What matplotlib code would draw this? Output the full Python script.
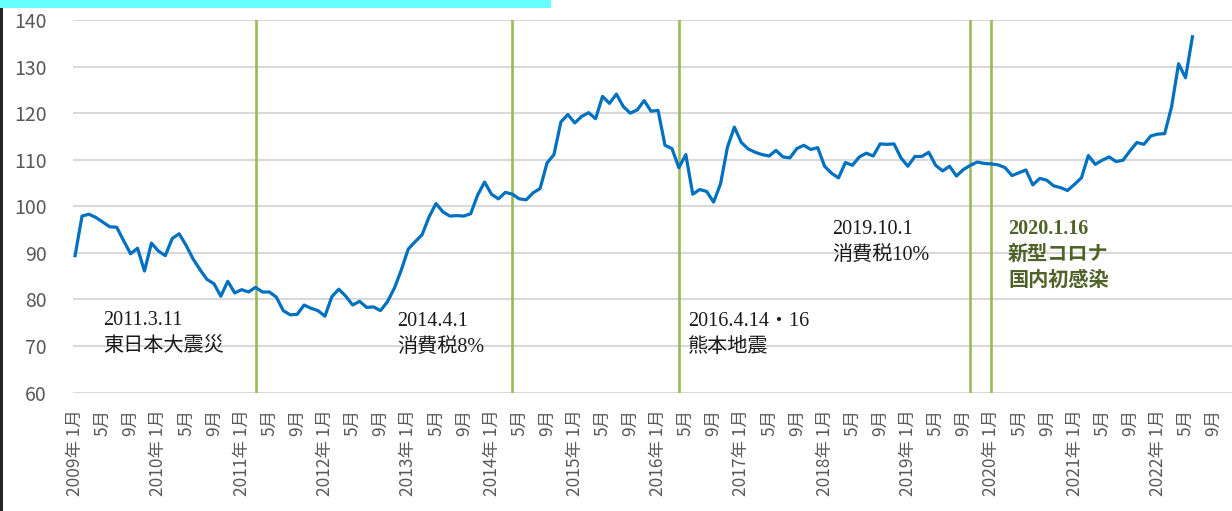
import numpy as np
import matplotlib
matplotlib.use('Agg')
import matplotlib.pyplot as plt
from matplotlib.lines import Line2D
from matplotlib.patches import Rectangle

plt.rcParams['font.family'] = ['Noto Sans CJK JP', 'DejaVu Sans']

# 月次の指数 (2009年1月〜2022年6月)
start_year = 2009
values = [
    89.4, 97.9, 98.3, 97.6, 96.6, 95.6, 95.5, 92.6, 89.8, 91.0, 86.1, 92.1,
    90.4, 89.4, 93.1, 94.1, 91.6, 88.7, 86.4, 84.3, 83.4, 80.7, 83.9, 81.4,
    82.1, 81.6, 82.6, 81.6, 81.6, 80.5, 77.6, 76.7, 76.8, 78.8, 78.1, 77.6,
    76.4, 80.6, 82.2, 80.7, 78.8, 79.6, 78.3, 78.4, 77.6, 79.5, 82.4, 86.3,
    90.8, 92.4, 93.9, 97.7, 100.6, 98.8, 97.9, 98.0, 97.9, 98.4, 102.4, 105.2,
    102.6, 101.6, 103.0, 102.6, 101.6, 101.4, 102.9, 103.8, 109.3, 111.1, 118.1, 119.7,
    117.9, 119.3, 120.1, 118.8, 123.6, 122.1, 124.1, 121.4, 120.0, 120.7, 122.7, 120.4,
    120.6, 113.1, 112.4, 108.3, 111.1, 102.6, 103.6, 103.2, 100.9, 104.8, 112.7, 117.0,
    113.7, 112.3, 111.6, 111.1, 110.8, 112.0, 110.6, 110.4, 112.4, 113.1, 112.2, 112.6,
    108.6, 107.1, 106.1, 109.4, 108.8, 110.6, 111.4, 110.8, 113.4, 113.3, 113.4, 110.4,
    108.6, 110.7, 110.7, 111.6, 108.8, 107.6, 108.6, 106.5, 107.9, 108.8, 109.5, 109.2,
    109.1, 108.9, 108.3, 106.6, 107.2, 107.8, 104.6, 106.0, 105.6, 104.4, 104.0, 103.4,
    104.7, 106.1, 110.9, 109.0, 109.9, 110.6, 109.6, 109.9, 111.9, 113.7, 113.3, 115.1,
    115.5, 115.6, 121.4, 130.6, 127.6, 136.4,
]

# 出来事 (年, 月)
event_months = [(2011, 3), (2014, 4), (2016, 4), (2019, 10), (2020, 1)]
event_labels = [
    ['2011.3.11', '東日本大震災'],
    ['2014.4.1', '消費税8%'],
    ['2016.4.14・16', '熊本地震'],
    ['2019.10.1', '消費税10%'],
    ['2020.1.16', '新型コロナ', '国内初感染'],
]

x = np.arange(len(values))
ev_x = [(y - start_year) * 12 + (m - 1) for y, m in event_months]

tick_pos = np.arange(0, 165, 4)
tick_labels = []
for t in tick_pos:
    yr = start_year + t // 12
    mo = t % 12 + 1
    if mo == 1:
        tick_labels.append(f'{yr}年 1月')
    else:
        tick_labels.append(f'{mo}月')

fig = plt.figure(figsize=(12.32, 5.11), dpi=100)
ax = fig.add_axes([73 / 1232, 1 - 392.6 / 511, 1 - 73 / 1232, (392.6 - 20) / 511])

for yv in range(60, 141, 10):
    ax.axhline(yv, color='#d9d9d9', lw=1.5, zorder=0)
for ex in ev_x:
    ax.axvline(ex, color='#9bbb59', lw=1.9, zorder=1)

ax.plot(x, values, color='#0070c0', lw=2.3, zorder=3, solid_joinstyle='round')

ax.set_xlim(-0.3, 166.7)
ax.set_ylim(60, 140)
ax.set_yticks(range(60, 141, 10))
ax.set_xticks(tick_pos)
ax.set_xticklabels(tick_labels, rotation=90, fontsize=12.5, color='#595959')
ax.tick_params(axis='y', length=0, pad=19, labelsize=14, labelcolor='#595959')
ax.tick_params(axis='x', length=0, pad=12)
for s in ax.spines.values():
    s.set_visible(False)

# 注記
def px2data(px, py):
    return (px - 75) / 6.94, 60 + (392.6 - py) / 4.658

serif = ['Liberation Serif', 'Noto Sans CJK JP']
text_pos = [(103, 325), (397, 326), (688, 326), (832, 234), (1008, 234)]
for (px, py), lines, k in zip(text_pos, event_labels, range(5)):
    special = (k == 4)
    for j, line in enumerate(lines):
        tx, ty = px2data(px, py + 26 * j)
        ax.text(tx, ty, line, family=serif, fontsize=14.5, va='baseline', ha='left',
                color='#4f6228' if special else '#1a1a1a',
                fontweight='bold' if special else 'normal', zorder=4)

# 上部の帯と左端の枠線
fig.add_artist(Rectangle((0, 1 - 8.5 / 511), 551 / 1232, 8.5 / 511,
                         transform=fig.transFigure, color='#66ffff', lw=0))
fig.add_artist(Line2D([1 / 1232, 1 / 1232], [0, 1 - 9 / 511],
                      transform=fig.transFigure, color='#262626', lw=2.2))

fig.savefig('out.png', dpi=100)
